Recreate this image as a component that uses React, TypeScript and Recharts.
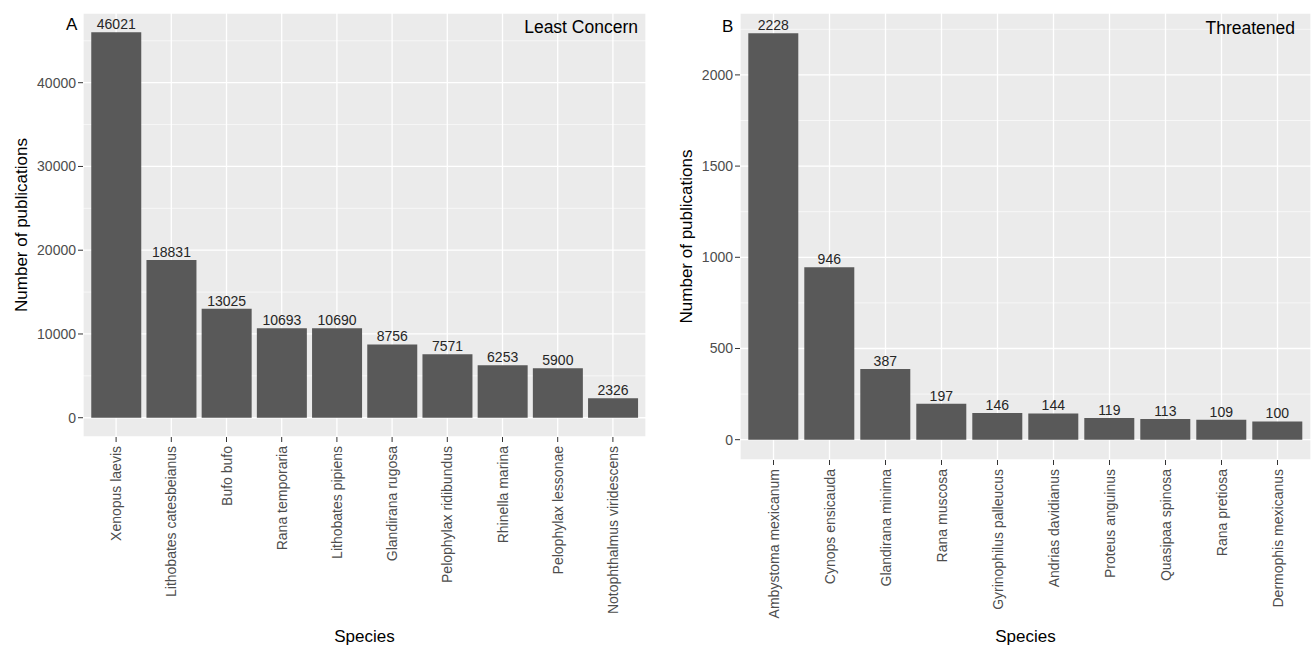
import React from "react";
import { BarChart, Bar, XAxis, YAxis, CartesianGrid, LabelList } from "recharts";

const lcSpecies = [
  "Xenopus laevis",
  "Lithobates catesbeianus",
  "Bufo bufo",
  "Rana temporaria",
  "Lithobates pipiens",
  "Glandirana rugosa",
  "Pelophylax ridibundus",
  "Rhinella marina",
  "Pelophylax lessonae",
  "Notophthalmus viridescens",
];
const lcCounts = [46021, 18831, 13025, 10693, 10690, 8756, 7571, 6253, 5900, 2326];
const lcTicks = [0, 10000, 20000, 30000, 40000];
const lcMinor = [5000, 15000, 25000, 35000, 45000];

const thSpecies = [
  "Ambystoma mexicanum",
  "Cynops ensicauda",
  "Glandirana minima",
  "Rana muscosa",
  "Gyrinophilus palleucus",
  "Andrias davidianus",
  "Proteus anguinus",
  "Quasipaa spinosa",
  "Rana pretiosa",
  "Dermophis mexicanus",
];
const thCounts = [2228, 946, 387, 197, 146, 144, 119, 113, 109, 100];
const thTicks = [0, 500, 1000, 1500, 2000];
const thMinor = [250, 750, 1250, 1750, 2250];

const FONT = "'Liberation Sans', Arial, Helvetica, sans-serif";

const XTick = (props: any) => {
  const { x, y, payload } = props;
  return (
    <g transform={`translate(${x},${y + 2})`}>
      <text
        transform="rotate(-90)"
        x={0}
        y={0}
        dy="0.36em"
        textAnchor="end"
        fill="#4D4D4D"
        fontSize={14}
        fontFamily={FONT}
      >
        {payload.value}
      </text>
    </g>
  );
};

type PanelProps = {
  species: string[];
  counts: number[];
  ticks: number[];
  minor: number[];
  left: number;
  yWidth: number;
  rightMargin: number;
  xHeight: number;
};

const Panel = ({ species, counts, ticks, minor, left, yWidth, rightMargin, xHeight }: PanelProps) => {
  const data = species.map((s, i) => ({ name: s, value: counts[i] }));
  const max = Math.max(...counts);
  const domain = [-0.05 * max, 1.05 * max];
  return (
    <div style={{ position: "absolute", left, top: 0 }}>
      <BarChart
        width={656}
        height={646}
        data={data}
        margin={{ top: 13, right: rightMargin, bottom: 0, left: 0 }}
        barCategoryGap="5%"
      >
        <CartesianGrid fill="#EBEBEB" stroke="#FFFFFF" strokeWidth={1.3} />
        <CartesianGrid
          vertical={false}
          horizontalValues={minor}
          stroke="#FFFFFF"
          strokeWidth={0.6}
        />
        <XAxis
          dataKey="name"
          type="category"
          interval={0}
          height={xHeight}
          padding={{ left: 5.5, right: 5.5 }}
          axisLine={false}
          tickLine={{ stroke: "#333333" }}
          tickSize={5}
          tick={<XTick />}
        />
        <YAxis
          type="number"
          domain={domain}
          ticks={ticks}
          width={yWidth}
          axisLine={false}
          tickLine={{ stroke: "#333333" }}
          tickSize={5}
          tickMargin={2}
          allowDataOverflow
          tick={{ fill: "#4D4D4D", fontSize: 14, fontFamily: FONT }}
        />
        <Bar dataKey="value" fill="#595959" isAnimationActive={false}>
          <LabelList
            dataKey="value"
            position="top"
            offset={3}
            fill="#262626"
            fontSize={14}
            fontFamily={FONT}
          />
        </Bar>
      </BarChart>
    </div>
  );
};

export default function App() {
  return (
    <div
      style={{
        position: "absolute",
        left: 0,
        top: 0,
        width: 1312,
        height: 646,
        background: "#FFFFFF",
        fontFamily: FONT,
      }}
    >
      <Panel
        species={lcSpecies}
        counts={lcCounts}
        ticks={lcTicks}
        minor={lcMinor}
        left={0}
        yWidth={83}
        rightMargin={10}
        xHeight={209}
      />
      <Panel
        species={thSpecies}
        counts={thCounts}
        ticks={thTicks}
        minor={thMinor}
        left={656}
        yWidth={84}
        rightMargin={1}
        xHeight={186}
      />
      <svg
        width={1312}
        height={646}
        style={{ position: "absolute", left: 0, top: 0, pointerEvents: "none" }}
      >
        <g fontFamily={FONT} fill="#000000">
          <text x={66} y={30} fontSize={17}>A</text>
          <text x={638} y={33} fontSize={17.5} textAnchor="end">Least Concern</text>
          <text x={722} y={32} fontSize={17}>B</text>
          <text x={1295} y={34} fontSize={17.5} textAnchor="end">Threatened</text>
          <text x={364.5} y={642} fontSize={17} textAnchor="middle">Species</text>
          <text x={1025.5} y={642} fontSize={17} textAnchor="middle">Species</text>
          <text
            x={0}
            y={0}
            fontSize={17}
            textAnchor="middle"
            transform="translate(27,225) rotate(-90)"
          >
            Number of publications
          </text>
          <text
            x={0}
            y={0}
            fontSize={17}
            textAnchor="middle"
            transform="translate(692,236.5) rotate(-90)"
          >
            Number of publications
          </text>
        </g>
      </svg>
    </div>
  );
}
